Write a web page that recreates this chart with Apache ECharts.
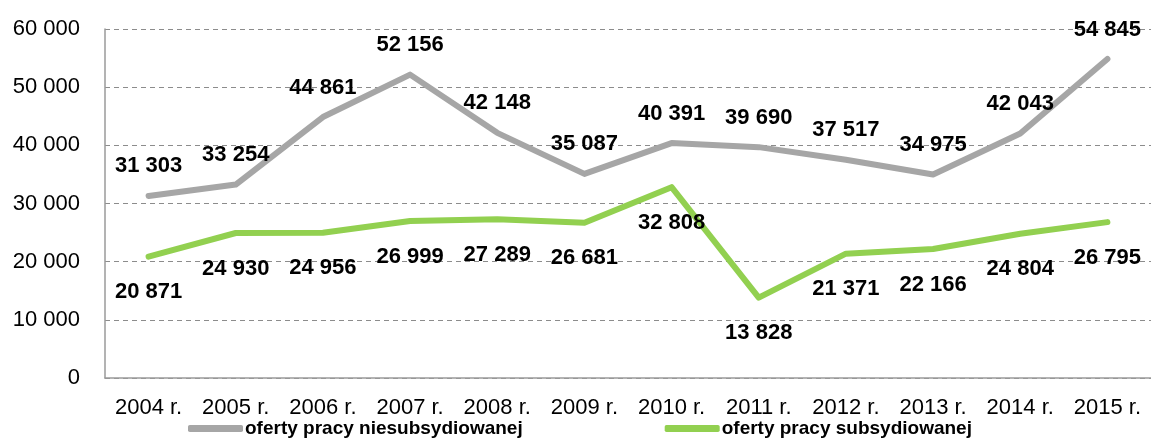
<!DOCTYPE html>
<html>
<head>
<meta charset="utf-8">
<script src="https://cdn.jsdelivr.net/npm/echarts@6/dist/echarts.min.js"></script>
<style>
  html, body { margin: 0; padding: 0; background: #fff; }
  #chart { width: 1151px; height: 445px; }
</style>
</head>
<body>
<div id="chart"></div>
<script>
var years = ['2004 r.', '2005 r.', '2006 r.', '2007 r.', '2008 r.', '2009 r.',
             '2010 r.', '2011 r.', '2012 r.', '2013 r.', '2014 r.', '2015 r.']
var niesubsydiowane = [31303, 33254, 44861, 52156, 42148, 35087, 40391, 39690, 37517, 34975, 42043, 54845]
var subsydiowane = [20871, 24930, 24956, 26999, 27289, 26681, 32808, 13828, 21371, 22166, 24804, 26795]
var seriesNames = ['oferty pracy niesubsydiowanej', 'oferty pracy subsydiowanej']

// 12345 -> "12 345"
function fmt(v) {
    return String(v).replace(/\B(?=(\d{3})+(?!\d))/g, ' ')
}

var font = 'Liberation Sans, Arial, sans-serif'

function lineSeries(name, data, color, pos, dist) {
    return {
        name: name,
        type: 'line',
        data: data,
        symbol: 'circle',
        symbolSize: 1,
        itemStyle: {color: color},
        lineStyle: {color: color, width: 6, cap: 'round', join: 'round'},
        label: {
            show: true,
            position: pos,
            distance: dist,
            color: '#000',
            fontFamily: font,
            fontWeight: 'bold',
            fontSize: 22,
            formatter: function (p) { return fmt(p.value) }
        },
        emphasis: {disabled: true},
        animation: false
    }
}

var chart = echarts.init(document.getElementById('chart'))
chart.setOption({
    backgroundColor: '#fff',
    grid: {left: 105, right: 0, top: 29, bottom: 67},
    legend: {
        left: 183,
        bottom: 2,
        itemWidth: 55,
        itemHeight: 7,
        itemGap: 142,
        icon: 'roundRect',
        textStyle: {color: '#000', fontFamily: font, fontWeight: 'bold', fontSize: 19, padding: [0, 0, 0, -3]},
        data: seriesNames
    },
    xAxis: {
        type: 'category',
        data: years,
        boundaryGap: true,
        axisLine: {lineStyle: {color: '#9a9a9a', width: 1.5}},
        axisTick: {show: false},
        axisLabel: {color: '#000', fontFamily: font, fontSize: 22, margin: 19, interval: 0, hideOverlap: false}
    },
    yAxis: {
        type: 'value',
        min: 0,
        max: 60000,
        interval: 10000,
        axisLine: {show: true, lineStyle: {color: '#9a9a9a', width: 1.5}},
        axisTick: {show: false},
        splitLine: {lineStyle: {color: '#8c8c8c', type: [5, 4], width: 1}},
        axisLabel: {
            color: '#000', fontFamily: font, fontSize: 22, margin: 25,
            formatter: function (v) { return fmt(v) }
        }
    },
    series: [
        lineSeries(seriesNames[0], niesubsydiowane, '#a6a6a6', 'top', 18),
        lineSeries(seriesNames[1], subsydiowane, '#92d050', 'bottom', 24)
    ]
})
</script>
</body>
</html>
